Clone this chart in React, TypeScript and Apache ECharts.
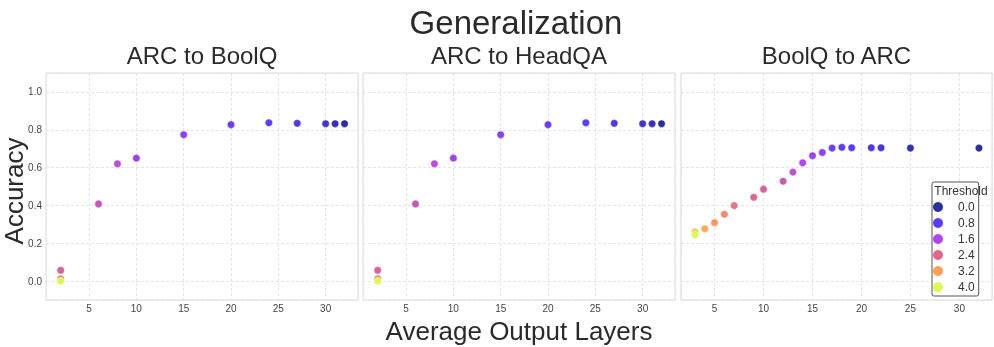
import React, { useEffect, useRef } from "react";
import * as echarts from "echarts";

// ---- Data ----
const panelTitles = ["ARC to BoolQ", "ARC to HeadQA", "BoolQ to ARC"];

// ARC to BoolQ
const layersArcBoolq = [32, 31, 30, 27, 24, 20, 15, 10, 8, 6, 2, 2, 2];
const accArcBoolq = [0.832, 0.832, 0.832, 0.834, 0.837, 0.827, 0.774, 0.65, 0.62, 0.408, 0.057, 0.012, 0.0];
const thrArcBoolq = [0.0, 0.2, 0.4, 0.6, 0.8, 0.95, 1.25, 1.4, 1.8, 2.0, 2.3, 2.8, 4.0];

// ARC to HeadQA
const layersArcHeadqa = [32, 31, 30, 27, 24, 20, 15, 10, 8, 6, 2, 2, 2];
const accArcHeadqa = [0.832, 0.832, 0.832, 0.834, 0.837, 0.827, 0.774, 0.65, 0.62, 0.408, 0.057, 0.012, 0.0];
const thrArcHeadqa = [0.0, 0.2, 0.4, 0.6, 0.8, 0.95, 1.25, 1.4, 1.8, 2.0, 2.3, 2.8, 4.0];

// BoolQ to ARC
const layersBoolqArc = [32, 25, 22, 21, 19, 18, 17, 16, 15, 14, 13, 12, 10, 9, 7, 6, 5, 4, 3, 3];
const accBoolqArc = [0.703, 0.703, 0.705, 0.705, 0.705, 0.707, 0.703, 0.68, 0.663, 0.625, 0.576, 0.528, 0.486, 0.443, 0.399, 0.353, 0.309, 0.277, 0.261, 0.244];
const thrBoolqArc = [0.0, 0.2, 0.5, 0.6, 0.8, 0.85, 1.0, 1.3, 1.4, 1.6, 1.9, 2.1, 2.3, 2.4, 2.6, 2.9, 3.1, 3.3, 3.7, 4.0];

// Threshold colour scale / legend
const thresholdStops = [0.0, 0.8, 1.6, 2.4, 3.2, 4.0];
const thresholdColors = ["#2b2f9c", "#5a3cfa", "#b044f0", "#e0668e", "#ff9e5a", "#dcf852"];

const FONT = "'Liberation Sans', Arial, sans-serif";

function hexToRgb(h: string) {
  const n = parseInt(h.slice(1), 16);
  return [(n >> 16) & 255, (n >> 8) & 255, n & 255];
}
function colorFor(t: number) {
  if (t <= thresholdStops[0]) return thresholdColors[0];
  for (let i = 1; i < thresholdStops.length; i++) {
    if (t <= thresholdStops[i]) {
      const f = (t - thresholdStops[i - 1]) / (thresholdStops[i] - thresholdStops[i - 1]);
      const a = hexToRgb(thresholdColors[i - 1]);
      const b = hexToRgb(thresholdColors[i]);
      const c = a.map((v, k) => Math.round(v + (b[k] - v) * f));
      return `rgb(${c[0]},${c[1]},${c[2]})`;
    }
  }
  return thresholdColors[thresholdColors.length - 1];
}

export default function App() {
  const ref = useRef<HTMLDivElement>(null);
  useEffect(() => {
    if (!ref.current) return;
    const chart = echarts.init(ref.current, undefined, { renderer: "svg" });
    const panels = [
      { layers: layersArcBoolq, acc: accArcBoolq, thr: thrArcBoolq, left: 46, width: 312, xmin: 0.45, xmax: 33.42 },
      { layers: layersArcHeadqa, acc: accArcHeadqa, thr: thrArcHeadqa, left: 363, width: 312, xmin: 0.45, xmax: 33.42 },
      { layers: layersBoolqArc, acc: accBoolqArc, thr: thrBoolqArc, left: 681, width: 311, xmin: 1.57, xmax: 33.33 },
    ];
    const top = 73;
    const height = 227;
    const gridLine = { show: true, lineStyle: { color: "#e4e4e4", type: [3, 2] as any, width: 1 } };

    const grids = panels.map((p) => ({
      left: p.left,
      width: p.width,
      top,
      height,
      show: true,
      borderColor: "#dadada",
      borderWidth: 1,
      backgroundColor: "transparent",
    }));
    const xAxes = panels.map((p, i) => ({
      gridIndex: i,
      type: "value",
      min: p.xmin,
      max: p.xmax,
      axisLine: { show: false },
      axisTick: { show: false },
      splitLine: gridLine,
      axisLabel: {
        fontSize: 10,
        color: "#444",
        fontFamily: FONT,
        margin: 3,
        showMinLabel: false,
        showMaxLabel: false,
        formatter: (v: number) => (Math.abs(v / 5 - Math.round(v / 5)) < 1e-6 ? String(Math.round(v)) : ""),
      },
    }));
    const yAxes = panels.map((p, i) => ({
      gridIndex: i,
      type: "value",
      min: -0.1,
      max: 1.1,
      axisLine: { show: false },
      axisTick: { show: false },
      splitLine: gridLine,
      axisLabel: {
        show: i === 0,
        fontSize: 10,
        color: "#444",
        fontFamily: FONT,
        margin: 4,
        showMinLabel: false,
        showMaxLabel: false,
        formatter: (v: number) =>
          Math.abs(v / 0.2 - Math.round(v / 0.2)) < 1e-6 ? Math.abs(v).toFixed(1) : "",
      },
    }));
    const dataSeries = panels.map((p, i) => ({
      type: "scatter",
      xAxisIndex: i,
      yAxisIndex: i,
      symbol: "circle",
      symbolSize: 7.5,
      silent: true,
      data: p.layers.map((x, k) => ({
        value: [x, p.acc[k]],
        itemStyle: { color: colorFor(p.thr[k]), opacity: 1, borderColor: "rgba(255,255,255,0.7)", borderWidth: 0.6 },
      })),
    }));
    const legendSeries = thresholdStops.map((t, k) => ({
      type: "scatter",
      name: t.toFixed(1),
      xAxisIndex: 2,
      yAxisIndex: 2,
      data: [],
      itemStyle: { color: thresholdColors[k], opacity: 1 },
    }));

    chart.setOption({
      animation: false,
      textStyle: { fontFamily: FONT },
      grid: grids,
      xAxis: xAxes,
      yAxis: yAxes,
      series: [...dataSeries, ...legendSeries],
      legend: {
        data: thresholdStops.map((t) => t.toFixed(1)),
        orient: "vertical",
        left: 932,
        top: 182,
        icon: "circle",
        itemWidth: 30,
        itemHeight: 10,
        itemGap: 0,
        selectedMode: false,
        padding: [17, 4, 1, 1],
        backgroundColor: "#fff",
        borderColor: "#555",
        borderWidth: 1,
        borderRadius: 2,
        itemStyle: { opacity: 1 },
        textStyle: { fontSize: 12, color: "#333", lineHeight: 16, fontFamily: FONT },
      },
      graphic: [
        {
          type: "text",
          x: 516,
          y: 22,
          z: 100,
          style: { text: "Generalization", fontSize: 33, fill: "#2a2a2a", fontFamily: FONT, textAlign: "center", textVerticalAlign: "middle" },
        },
        ...panels.map((p, i) => ({
          type: "text",
          x: p.left + p.width / 2,
          y: 55,
          z: 100,
          style: { text: panelTitles[i], fontSize: 24, fill: "#2a2a2a", fontFamily: FONT, textAlign: "center", textVerticalAlign: "middle" },
        })),
        {
          type: "text",
          x: 519,
          y: 331,
          z: 100,
          style: { text: "Average Output Layers", fontSize: 26, fill: "#2a2a2a", fontFamily: FONT, textAlign: "center", textVerticalAlign: "middle" },
        },
        {
          type: "text",
          x: 14,
          y: 191,
          rotation: Math.PI / 2,
          z: 100,
          style: { text: "Accuracy", fontSize: 26, fill: "#2a2a2a", fontFamily: FONT, textAlign: "center", textVerticalAlign: "middle" },
        },
        {
          type: "text",
          x: 961,
          y: 191,
          z: 100,
          style: { text: "Threshold", fontSize: 12, fill: "#333", fontFamily: FONT, textAlign: "center", textVerticalAlign: "middle" },
        },
      ],
    });
    return () => chart.dispose();
  }, []);
  return <div ref={ref} style={{ position: "fixed", left: 0, top: 0, width: 994, height: 347 }} />;
}
